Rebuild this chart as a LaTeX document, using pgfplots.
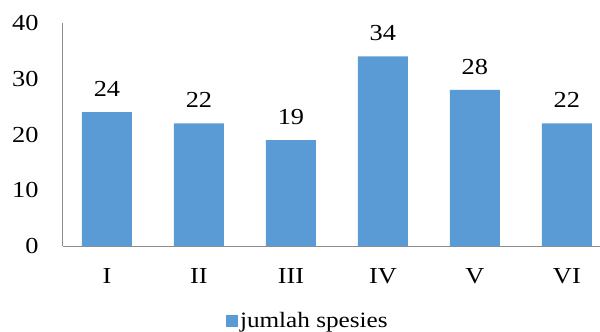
\documentclass[border=0pt]{standalone}
\usepackage{fontspec}
\setmainfont{Liberation Serif}[FakeStretch=1.15]
\usepackage{pgfplots}
\pgfplotsset{compat=1.18}
\usetikzlibrary{calc}
\definecolor{barblue}{HTML}{5B9BD5}
\definecolor{axgray}{HTML}{8C8C8C}
\begin{document}
\begin{tikzpicture}
\begin{axis}[
  name=ax,
  scale only axis,
  width=537bp, height=223bp,
  ymin=0, ymax=40,
  xmin=-0.478, xmax=5.36,
  ytick={0,10,20,30,40},
  xtick={0,1,2,3,4,5},
  xticklabels={I,II,III,IV,V,VI},
  axis x line*=bottom, axis y line*=left,
  axis line style={axgray, line width=1bp, -},
  major tick length=0pt,
  tick style={draw=none},
  /pgf/number format/assume math mode=true,
  ticklabel style={font=\fontsize{23}{27}\selectfont},
  yticklabel style={xshift=-21bp},
  xticklabel style={yshift=-19bp},
  ybar, bar width=50bp,
  nodes near coords,
  every node near coord/.append style={font=\fontsize{23}{27}\selectfont, anchor=south, yshift=12bp},
  legend style={at={(0.456,-0.335)}, anchor=center, draw=none, fill=none,
    font=\fontsize{22}{26}\selectfont},
  legend image code/.code={\fill[barblue] (0bp,-6bp) rectangle (12bp,6bp);},
  legend cell align=left,
]
\addplot[fill=barblue, draw=none] coordinates {(0,24) (1,22) (2,19) (3,34) (4,28) (5,22)};
\addlegendentry{jumlah spesies}
\end{axis}
\pgfresetboundingbox
\path[use as bounding box] ($(ax.south west)+(-63bp,-86bp)$) rectangle ($(ax.north east)+(0bp,23bp)$);
\end{tikzpicture}
\end{document}
